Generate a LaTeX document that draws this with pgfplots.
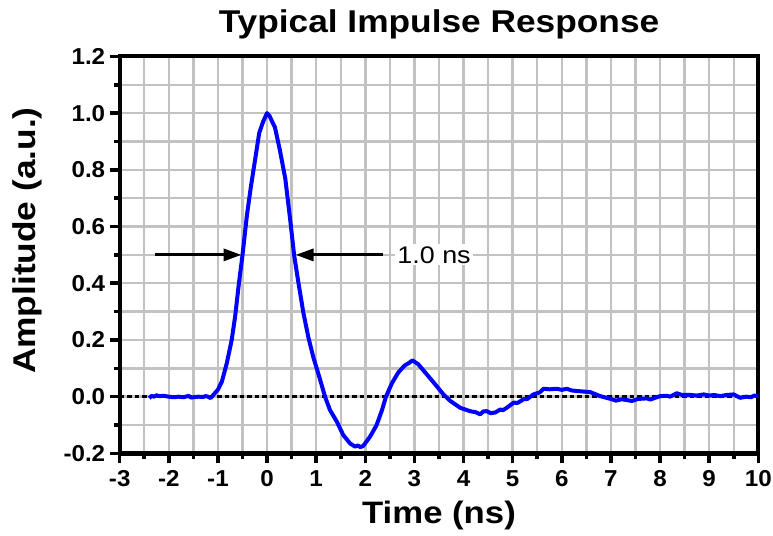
\documentclass[border=0pt]{standalone}
\usepackage{fontspec}
\setmainfont{Liberation Sans}
\newfontfamily\widefont[FakeStretch=1.12]{Liberation Sans}
\newfontfamily\tickfont[FakeStretch=1.05]{Liberation Sans}
\usepackage{pgfplots}
\pgfplotsset{compat=1.18}
\usetikzlibrary{arrows.meta}
\begin{document}
\begin{tikzpicture}
\begin{axis}[
  at={(0,0)}, anchor=south west,
  width=638.6pt, height=397pt, scale only axis,
  xmin=-3, xmax=10, ymin=-0.2, ymax=1.2,
  xtick={-3,-2,-1,0,1,2,3,4,5,6,7,8,9,10},
  xticklabels={-3,-2,-1,0,1,2,3,4,5,6,7,8,9,10},
  ytick={-0.2,0,0.2,0.4,0.6,0.8,1.0,1.2},
  yticklabels={-0.2,0.0,0.2,0.4,0.6,0.8,1.0,1.2},
  minor x tick num=1, minor y tick num=1,
  grid=both,
  major grid style={draw=black!24, line width=2.4pt},
  minor grid style={draw=black!24, line width=2.4pt},
  axis line style={line width=4.2pt},
  tick style={black, line width=3.6pt},
  major tick length=10pt, minor tick length=6pt,
  tick align=outside, tick pos=left,
  ticklabel style={font=\tickfont\fontsize{23}{23}\selectfont\bfseries},
  xticklabel style={yshift=-4pt},
  yticklabel style={xshift=-1pt},
  title={Typical Impulse Response},
  title style={at={(axis description cs:0.5,1)}, anchor=base, yshift=18pt, font=\widefont\fontsize{31.5}{31.5}\selectfont\bfseries},
  xlabel={Time (ns)},
  xlabel style={at={(axis description cs:0.5,0)}, anchor=base, yshift=-70pt, font=\widefont\fontsize{31}{31}\selectfont\bfseries},
  ylabel={Amplitude (a.u.)},
  ylabel style={at={(axis description cs:-0.1326,0.536)}, anchor=base, font=\widefont\fontsize{31.5}{31.5}\selectfont\bfseries},
  clip=false,
]
\addplot[black, line width=2.4pt, dash pattern=on 4.5pt off 3pt] coordinates {(-3,0) (10,0)};
\addplot[blue, line width=4pt, line join=round] coordinates {
(-2.40,-0.005) (-2.35,0.003) (-2.30,0.000) (-2.25,0.005) (-2.20,0.002) (-2.10,0.003) (-2.00,0.000) (-1.90,-0.002) (-1.80,0.000) (-1.70,-0.002) (-1.60,0.003) (-1.55,-0.003) (-1.50,-0.002) (-1.40,0.000) (-1.30,-0.001) (-1.25,0.002) (-1.20,0.000) (-1.15,-0.005) (-1.10,0.005) (-1.00,0.025) (-0.92,0.053) (-0.82,0.118) (-0.72,0.20) (-0.65,0.283) (-0.58,0.39) (-0.50,0.50) (-0.41,0.64) (-0.33,0.74) (-0.24,0.84) (-0.16,0.93) (-0.08,0.97) (0,1.0) (0.05,0.99) (0.09,0.975) (0.16,0.95) (0.26,0.87) (0.37,0.77) (0.47,0.625) (0.55,0.50) (0.64,0.40) (0.74,0.295) (0.84,0.21) (0.94,0.14) (1.08,0.06) (1.18,0.0) (1.28,-0.047) (1.42,-0.088) (1.55,-0.135) (1.69,-0.165) (1.79,-0.176) (1.85,-0.172) (1.90,-0.178) (1.96,-0.173) (2.10,-0.14) (2.23,-0.10) (2.34,-0.047) (2.42,0) (2.54,0.047) (2.67,0.085) (2.80,0.110) (2.88,0.118) (2.96,0.128) (3.08,0.114) (3.25,0.079) (3.42,0.044) (3.59,0.008) (3.73,-0.015) (3.93,-0.039) (4.13,-0.051) (4.25,-0.055) (4.34,-0.062) (4.40,-0.052) (4.47,-0.051) (4.55,-0.058) (4.64,-0.056) (4.75,-0.045) (4.80,-0.048) (4.88,-0.039) (5.02,-0.021) (5.10,-0.022) (5.22,-0.009) (5.30,-0.008) (5.42,0.008) (5.55,0.015) (5.63,0.028) (5.75,0.026) (5.90,0.028) (6.00,0.024) (6.10,0.028) (6.20,0.022) (6.31,0.020) (6.45,0.018) (6.58,0.016) (6.78,0.002) (7.02,-0.009) (7.10,-0.014) (7.22,-0.009) (7.43,-0.015) (7.55,-0.008) (7.73,-0.006) (7.80,-0.010) (8.0,0.002) (8.15,0.003) (8.20,0.000) (8.34,0.012) (8.45,0.006) (8.62,0.006) (8.75,0.004) (8.89,0.008) (9.0,0.004) (9.10,0.006) (9.23,0.002) (9.35,0.006) (9.50,0.008) (9.63,-0.004) (9.75,0.000) (9.85,-0.002) (9.92,0.004) (9.97,0.002) (10.0,0.003)
};
\draw[line width=3.2pt, -{Triangle[length=18pt, width=12pt]}] (axis cs:-2.28,0.5) -- (axis cs:-0.52,0.5);
\draw[line width=3.2pt, -{Triangle[length=18pt, width=12pt]}] (axis cs:2.36,0.5) -- (axis cs:0.58,0.5);
\node[fill=white, inner sep=2pt, font=\widefont\fontsize{24}{24}\selectfont] at (axis cs:3.40,0.5) {1.0 ns};
\end{axis}
\pgfresetboundingbox
\path (-119.7pt,-81.6pt) rectangle (653.3pt,453.4pt);
\end{tikzpicture}
\end{document}
